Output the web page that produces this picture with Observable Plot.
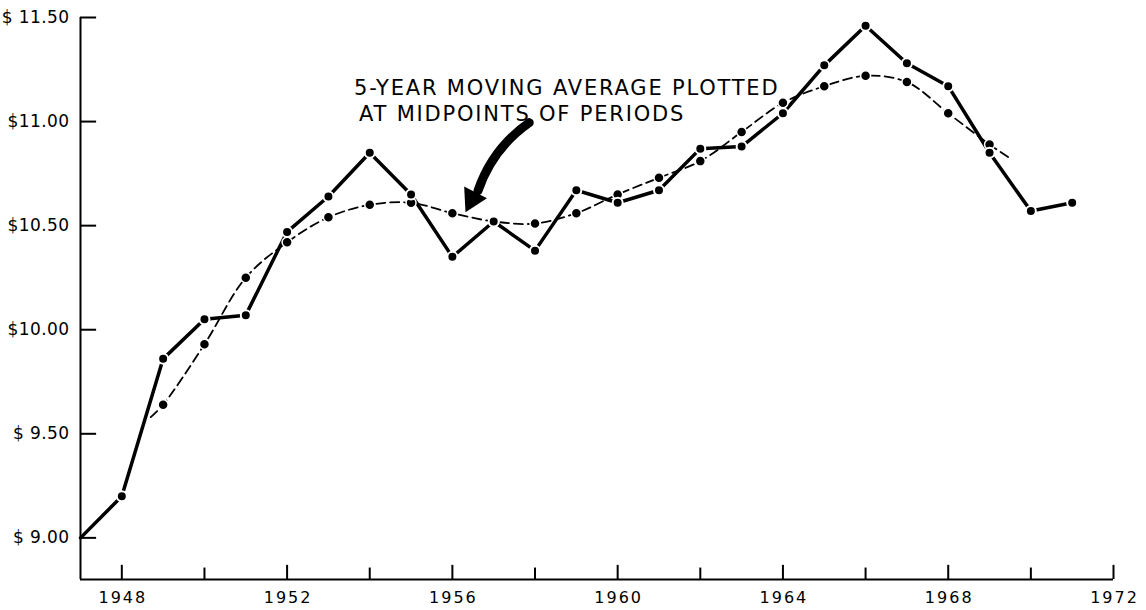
<!DOCTYPE html>
<html><head><meta charset="utf-8">
<script src="https://cdn.jsdelivr.net/npm/d3@7"></script>
<script src="https://cdn.jsdelivr.net/npm/@observablehq/plot@0.6"></script>
<style>
html,body{margin:0;padding:0;background:#fff;}
</style></head><body><div id="chart"></div>
<script>
// Actual values (solid line)
const actualYears = [1947,1948,1949,1950,1951,1952,1953,1954,1955,1956,1957,1958,1959,1960,1961,1962,1963,1964,1965,1966,1967,1968,1969,1970,1971];
const actualValues = [9.00,9.20,9.86,10.05,10.07,10.47,10.64,10.85,10.65,10.35,10.52,10.38,10.67,10.61,10.67,10.87,10.88,11.04,11.27,11.46,11.28,11.17,10.85,10.57,10.61];
// 5-year moving average (dashed line), plotted at midpoints
const maYears = [1949,1950,1951,1952,1953,1954,1955,1956,1957,1958,1959,1960,1961,1962,1963,1964,1965,1966,1967,1968,1969];
const maValues = [9.64,9.93,10.25,10.42,10.54,10.60,10.61,10.56,10.52,10.51,10.56,10.65,10.73,10.81,10.95,11.09,11.17,11.22,11.19,11.04,10.89];
// ends of the hand-drawn dashed curve (no dots)
const maCurveStart = {year: 1948.7, value: 9.58};
const maCurveEnd = {year: 1969.45, value: 10.83};

const yTicks = [9.0, 9.5, 10.0, 10.5, 11.0, 11.5];
const yTickLabels = ["$ 9.00", "$ 9.50", "$10.00", "$10.50", "$11.00", "$ 11.50"];
const xMajorTicks = [1948, 1952, 1956, 1960, 1964, 1968, 1972];
const xMinorTicks = [1950, 1954, 1958, 1962, 1966, 1970];
const xDomain = [1947, 1972];
const yDomain = [8.8, 11.5];

const noteLines = ["5-YEAR MOVING AVERAGE PLOTTED", "AT MIDPOINTS OF PERIODS"];
const noteX = [1953.62, 1953.74];
const noteY = [11.159, 11.034];
const arrowTail = {year: 1957.86, value: 10.995};
const arrowBase = {year: 1956.62, value: 10.668};
const arrowTip = {year: 1956.48, value: 10.628, angle: 207};

const actual = actualYears.map((year, i) => ({year, value: actualValues[i]}));
const ma = maYears.map((year, i) => ({year, value: maValues[i]}));
const maCurve = [maCurveStart, ...ma, maCurveEnd];
const notes = noteLines.map((text, i) => ({text, x: noteX[i], y: noteY[i]}));

const chart = Plot.plot({
  width: 1146, height: 610,
  marginLeft: 80, marginRight: 33, marginTop: 17, marginBottom: 31,
  x: {domain: xDomain},
  y: {domain: yDomain},
  style: {fontFamily: "'DejaVu Sans', sans-serif", color: "#000", background: "#fff", overflow: "visible"},
  marks: [
    // axis lines
    Plot.ruleX([xDomain[0]], {y1: yDomain[0], y2: yDomain[1], strokeWidth: 2, stroke: "#000"}),
    Plot.ruleY([yDomain[0]], {x1: xDomain[0], x2: xDomain[1], strokeWidth: 2, stroke: "#000"}),
    // inward ticks
    Plot.ruleY(yTicks, {x1: xDomain[0], x2: xDomain[0] + 0.39, strokeWidth: 2, stroke: "#000"}),
    Plot.ruleX(xMajorTicks, {y1: yDomain[0], y2: yDomain[0] + 0.068, strokeWidth: 2, stroke: "#000"}),
    Plot.ruleX(xMinorTicks, {y1: yDomain[0], y2: yDomain[0] + 0.055, strokeWidth: 2, stroke: "#000"}),
    Plot.axisY(yTicks, {tickSize: 0, tickPadding: 11, fontSize: 17, tickFormat: d => yTickLabels[yTicks.indexOf(d)]}),
    Plot.axisX(xMajorTicks, {tickSize: 0, tickPadding: 12, fontSize: 16, dx: 1, tickFormat: d => String(d)}),
    // moving average
    Plot.line(maCurve, {x: "year", y: "value", curve: "catmull-rom", stroke: "#000", strokeWidth: 1.8, strokeDasharray: "9,5"}),
    // actual
    Plot.line(actual, {x: "year", y: "value", stroke: "#000", strokeWidth: 3.5, strokeLinejoin: "round"}),
    Plot.dot(ma, {x: "year", y: "value", r: 5, fill: "#000", stroke: "#fff", strokeWidth: 1.5}),
    Plot.dot(actual.filter(d => d.year > 1947), {x: "year", y: "value", r: 5, fill: "#000", stroke: "#fff", strokeWidth: 2}),
    // annotation
    Plot.text(notes, {x: "x", y: "y", text: "text", textAnchor: "start", fontSize: 21, fill: "#000"}),
    Plot.arrow([{a: arrowTail, b: arrowBase}], {x1: d => d.a.year, y1: d => d.a.value, x2: d => d.b.year, y2: d => d.b.value, bend: -18, stroke: "#000", strokeWidth: 9, headLength: 0}),
    Plot.dot([arrowTip], {x: "year", y: "value", symbol: "triangle", r: 9.5, rotate: "angle", fill: "#000", stroke: "none"})
  ]
});
const spacing = {"text": "1.8px", "x-axis tick label": "2px", "y-axis tick label": "0.4px"};
for (const [label, ls] of Object.entries(spacing)) {
  d3.select(chart).selectAll(`g[aria-label="${label}"] text`).attr("letter-spacing", ls).style("letter-spacing", ls);
}
document.getElementById("chart").appendChild(chart);
</script></body></html>
